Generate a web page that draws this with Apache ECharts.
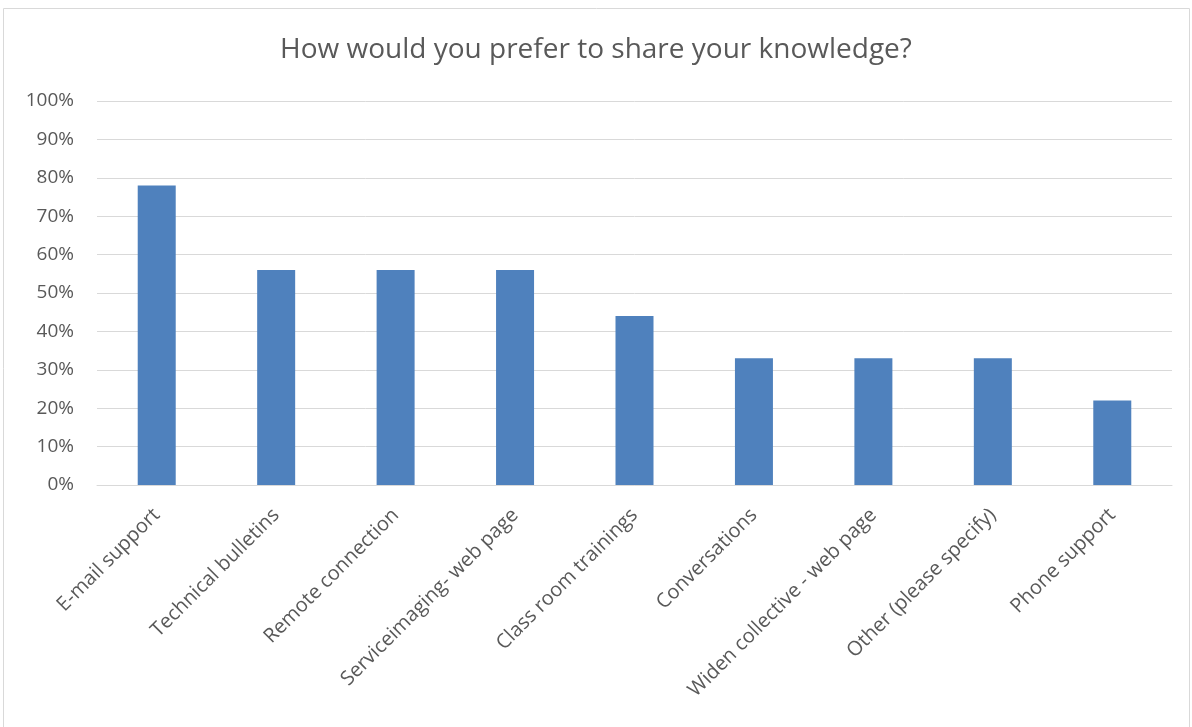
<!DOCTYPE html>
<html>
<head>
<meta charset="utf-8">
<script src="https://cdn.jsdelivr.net/npm/echarts@6/dist/echarts.min.js"></script>
<style>html,body{margin:0;padding:0;background:#fff}#c{width:1192px;height:727px}</style>
</head>
<body>
<div id="c"></div>
<script>
var categories = ["E-mail support","Technical bulletins","Remote connection","Serviceimaging- web page","Class room trainings","Conversations","Widen collective - web page","Other (please specify)","Phone support"];
var values = [78, 56, 56, 56, 44, 33, 33, 33, 22];
var chartTitle = "How would you prefer to share your knowledge?";

var chart = echarts.init(document.getElementById('c'), null, {renderer: 'canvas'});
var font = "'Open Sans', 'Noto Sans', sans-serif";
chart.setOption({
  animation: false,
  graphic: [{
    type: 'rect', shape: {x: 3.5, y: 8.5, width: 1186, height: 730},
    style: {fill: 'none', stroke: '#D9D9D9', lineWidth: 1}, silent: true
  }],
  title: {
    text: chartTitle, left: 'center', top: 31,
    textStyle: {fontFamily: font, fontSize: 28, fontWeight: 'normal', color: '#595959'}
  },
  grid: {left: 97, right: 20, top: 101, bottom: 242, containLabel: false},
  xAxis: {
    type: 'category', data: categories,
    axisLine: {show: true, lineStyle: {color: '#D9D9D9', width: 1}},
    axisTick: {show: false},
    axisLabel: {rotate: 45, interval: 0, margin: 27, color: '#595959', fontSize: 20, fontFamily: font}
  },
  yAxis: {
    type: 'value', min: 0, max: 100, interval: 10,
    axisLine: {show: false}, axisTick: {show: false},
    axisLabel: {formatter: '{value}%', margin: 23, color: '#595959', fontSize: 19, fontFamily: font},
    splitLine: {lineStyle: {color: '#D9D9D9', width: 1}}
  },
  series: [{
    type: 'bar', data: values, barWidth: 38,
    itemStyle: {color: '#4F81BD'}
  }]
});
</script>
</body>
</html>
